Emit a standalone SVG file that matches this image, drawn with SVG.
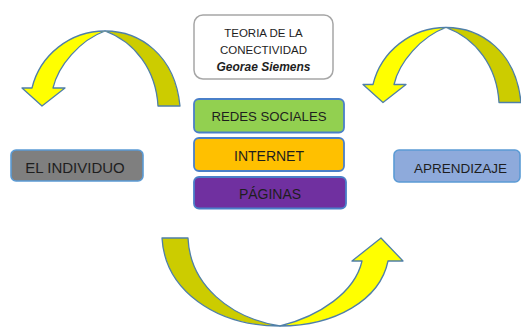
<svg xmlns="http://www.w3.org/2000/svg" width="521" height="327" viewBox="0 0 521 327">
<style>
.front{fill:#ffff00;stroke:#4f7fa8;stroke-width:1.3;stroke-linejoin:round}
.back{fill:#cccc00;stroke:#4f7fa8;stroke-width:1.3;stroke-linejoin:round}
.box{stroke:#4a7fc8;stroke-width:1.8}
.t{font-family:"Liberation Sans",Arial,sans-serif;fill:#1e1e1e;text-anchor:middle}
</style>
<rect width="521" height="327" fill="#ffffff"/>
<g id="connectors">
  <g id="arrow-top-left">
    <path class="back" d="M105,31 C140,31 175,55 180,106 L158,106 C156,70 135,42 105,31 Z"/>
    <path class="front" d="M105,31 C70,31 40,55 32,88 L22,88 L42,106 L65,88 L53,88 C58,66 80,40 105,31 Z"/>
  </g>
  <g id="arrow-top-right" transform="translate(341,-3.5)">
    <path class="back" d="M105,31 C140,31 175,55 180,106 L158,106 C156,70 135,42 105,31 Z"/>
    <path class="front" d="M105,31 C70,31 40,55 32,88 L22,88 L42,106 L65,88 L53,88 C58,66 80,40 105,31 Z"/>
  </g>
  <g id="arrow-bottom">
    <path class="back" d="M162,238 L188,238 C190,285 230,318 280,326 C215,326 165,290 162,238 Z"/>
    <path class="front" d="M280,326 C335,326 380,300 388,261 L403,261 L381,238 L352,261 L362,261 C355,292 320,316 280,326 Z"/>
  </g>
</g>
<g id="teoria">
  <rect x="194" y="15" width="139" height="64" rx="9" fill="#ffffff" stroke="#a6a6a6" stroke-width="1.5"/>
  <text class="t" x="263.5" y="37" font-size="11.5">TEORIA DE LA</text>
  <text class="t" x="263.5" y="54" font-size="11.5">CONECTIVIDAD</text>
  <text class="t" x="263.5" y="71" font-size="12" font-weight="bold" font-style="italic" fill="#000">Georae Siemens</text>
</g>
<g id="redes">
  <rect class="box" x="194" y="99" width="150" height="33.5" rx="5" fill="#92d050"/>
  <text class="t" x="269" y="121" font-size="13.2">REDES SOCIALES</text>
</g>
<g id="internet">
  <rect class="box" x="194" y="138" width="150" height="33" rx="5" fill="#ffc000"/>
  <text class="t" x="269" y="161" font-size="14">INTERNET</text>
</g>
<g id="paginas">
  <rect class="box" x="194" y="177" width="152" height="31.5" rx="5" fill="#7030a0"/>
  <text class="t" x="270" y="199" font-size="14">PÁGINAS</text>
</g>
<g id="individuo">
  <rect x="11" y="150" width="132" height="31" rx="5" fill="#7f7f7f" stroke="#5b9bd5" stroke-width="1.6"/>
  <text class="t" x="75" y="172.5" font-size="15">EL INDIVIDUO</text>
</g>
<g id="aprendizaje">
  <rect x="394" y="150" width="126" height="32" rx="5" fill="#8eaadb" stroke="#5b9bd5" stroke-width="1.6"/>
  <text class="t" x="460.5" y="173" font-size="13.5">APRENDIZAJE</text>
</g>
</svg>
